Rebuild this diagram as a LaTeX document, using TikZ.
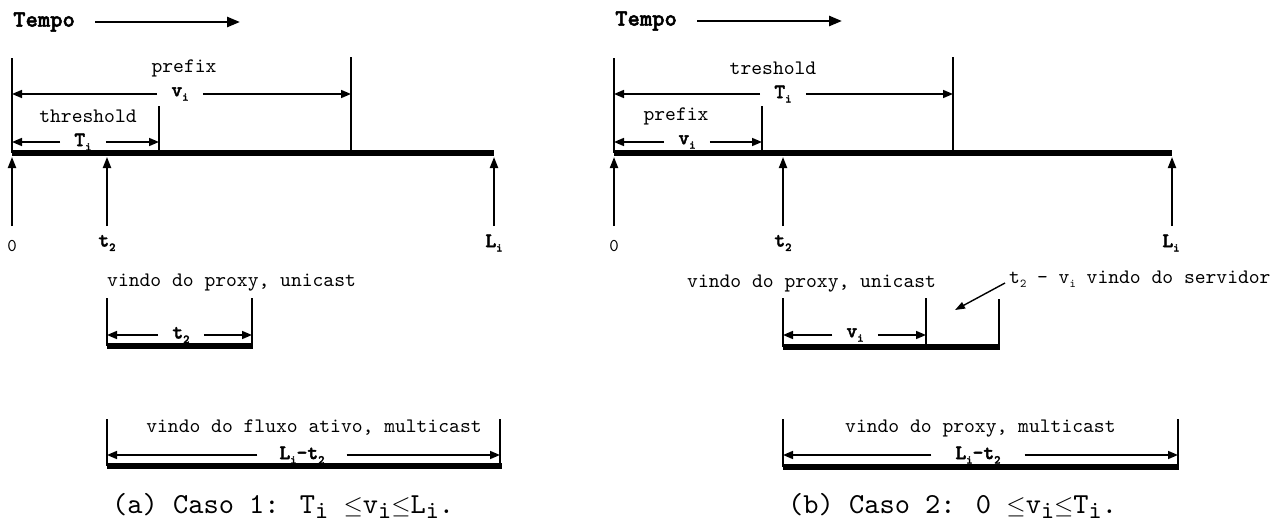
\documentclass[tikz,border=0pt]{standalone}
\usepackage{fontspec}
\newfontfamily\mono{lmmono10-regular.otf}
\newfontfamily\monob{lmmonolt10-bold.otf}[FakeBold=2]
\usetikzlibrary{arrows.meta}
% lowered small index used inside labels
\newcommand\sbs[1]{\raisebox{-0.5ex}{\fontsize{12}{12}\selectfont #1}}
% lowered index used in the captions
\newcommand\csb[1]{\raisebox{-0.35ex}{\fontsize{25}{25}\selectfont #1}}
\newcommand\lesym{$\leq$}
\begin{document}
\begin{tikzpicture}[x=1pt,y=-1pt,
  txt/.style={font=\mono\fontsize{20.6}{22}\selectfont, inner sep=0pt},
  lbl/.style={font=\monob\fontsize{20.6}{22}\selectfont, inner ysep=0pt, inner xsep=14pt},
  axlbl/.style={font=\monob\fontsize{20.6}{22}\selectfont, inner sep=0pt},
  zero/.style={font=\mono\fontsize{18}{20}\selectfont, inner sep=0pt},
  tempo/.style={font=\monob\fontsize{23.5}{25}\selectfont, inner sep=0pt},
  capt/.style={font=\mono\fontsize{29}{31}\selectfont, inner sep=0pt},
  dim/.style={line width=1.6pt, -{Triangle[length=10pt,width=8pt]}},
  tarrow/.style={line width=2.6pt, -{Triangle[length=13pt,width=10pt]}},
  up/.style={line width=2pt, -{Triangle[length=11pt,width=8pt]}},
  tick/.style={line width=1.6pt},
  bar/.style={line width=6pt},
  ptr/.style={line width=1.4pt, -{Triangle[length=10pt,width=7pt]}},
]
\useasboundingbox (0,0) rectangle (1286,523);

% ================= case 1 =================
\node[tempo, anchor=west] (tA) at (13,22) {Tempo};
\coordinate (tAe) at (240,22);
\draw[tarrow] ([xshift=20pt]tA.east) -- (tAe);

% time axis
\coordinate (a0) at (12,153);
\coordinate (aL) at (494,153);
\draw[bar] (a0) -- (aL);

% limits above the axis
\coordinate (aS) at (12,58);
\coordinate (aV) at (351,57);
\coordinate (aT) at (159,106);
\draw[tick] (aS) -- (aS |- a0);
\draw[tick] (aV) -- (aV |- a0);
\draw[tick] (aT) -- (aT |- a0);

% prefix / v_i
\node[txt] (aPre) at (184,68) {prefix};
\node[lbl] (aVi) at (180,94) {v\sbs{i}};
\draw[dim] (aVi) -- (aS |- aVi);
\draw[dim] (aVi) -- (aV |- aVi);

% threshold / T_i
\node[txt] (aThr) at (88,116) {threshold};
\node[lbl] (aTi) at (83,142) {T\sbs{i}};
\draw[dim] (aTi) -- (aS |- aTi);
\draw[dim] (aTi) -- (aT |- aTi);

% instants below the axis
\coordinate (aB) at (0,157);
\coordinate (aU0) at (12,226);
\coordinate (aU1) at (107,226);
\coordinate (aU2) at (494,226);
\draw[up] (aU0) -- (aU0 |- aB);
\draw[up] (aU1) -- (aU1 |- aB);
\draw[up] (aU2) -- (aU2 |- aB);
\node[zero] (aN0) at (12,246) {0};
\node[axlbl] (aN1) at (107,243) {t\sbs{2}};
\node[axlbl] (aN2) at (494,243) {L\sbs{i}};

% unicast part from the proxy
\node[txt, anchor=west] (aUni) at (107,283) {vindo do proxy, unicast};
\coordinate (b1L) at (107,298);
\coordinate (b1R) at (252,298);
\coordinate (b1B) at (107,346);
\coordinate (b1E) at (253,346);
\draw[tick] (b1L) -- (b1L |- b1B);
\draw[tick] (b1R) -- (b1R |- b1B);
\draw[bar] (b1B) -- (b1E);
\node[lbl] (aT2) at (181,335) {t\sbs{2}};
\draw[dim] (aT2) -- (b1L |- aT2);
\draw[dim] (aT2) -- (b1R |- aT2);

% multicast part from the active stream
\coordinate (b2L) at (107,419);
\coordinate (b2R) at (500,419);
\coordinate (b2B) at (107,466);
\coordinate (b2E) at (502,466);
\draw[tick] (b2L) -- (b2L |- b2B);
\draw[tick] (b2R) -- (b2R |- b2B);
\draw[bar] (b2B) -- (b2E);
\node[txt] (aMul) at (314,428) {vindo do fluxo ativo, multicast};
\node[lbl, inner xsep=22pt] (aLt) at (302,455) {L\sbs{i}-t\sbs{2}};
\draw[dim] (aLt) -- (b2L |- aLt);
\draw[dim] (aLt) -- (b2R |- aLt);

\node[capt, anchor=west] (capA) at (112,506) {(a) Caso 1: T\csb{i} \lesym v\csb{i}\lesym L\csb{i}.};

% ================= case 2 =================
\node[tempo, anchor=west] (tB) at (615,21) {Tempo};
\coordinate (tBe) at (842,21);
\draw[tarrow] ([xshift=20pt]tB.east) -- (tBe);

% time axis
\coordinate (c0) at (614,153);
\coordinate (cL) at (1172,153);
\draw[bar] (c0) -- (cL);

% limits above the axis
\coordinate (cS) at (614,58);
\coordinate (cT) at (953,57);
\coordinate (cV) at (762,106);
\draw[tick] (cS) -- (cS |- c0);
\draw[tick] (cT) -- (cT |- c0);
\draw[tick] (cV) -- (cV |- c0);

% treshold / T_i
\node[txt] (cThr) at (773,68) {treshold};
\node[lbl] (cTi) at (783,94) {T\sbs{i}};
\draw[dim] (cTi) -- (cS |- cTi);
\draw[dim] (cTi) -- (cT |- cTi);

% prefix / v_i
\node[txt] (cPre) at (676,116) {prefix};
\node[lbl] (cVi) at (687,142) {v\sbs{i}};
\draw[dim] (cVi) -- (cS |- cVi);
\draw[dim] (cVi) -- (cV |- cVi);

% instants below the axis
\coordinate (cB) at (0,157);
\coordinate (cU0) at (614,226);
\coordinate (cU1) at (783,226);
\coordinate (cU2) at (1172,226);
\draw[up] (cU0) -- (cU0 |- cB);
\draw[up] (cU1) -- (cU1 |- cB);
\draw[up] (cU2) -- (cU2 |- cB);
\node[zero] (cN0) at (614,246) {0};
\node[axlbl] (cN1) at (783,243) {t\sbs{2}};
\node[axlbl] (cN2) at (1171,243) {L\sbs{i}};

% unicast part from the proxy, then from the server
\node[txt, anchor=west] (cUni) at (687,284) {vindo do proxy, unicast};
\node[txt, anchor=west] (cSrv) at (1009,279) {t\sbs{2} - v\sbs{i} vindo do servidor};
\coordinate (cPtr) at (955,310);
\draw[ptr] ([xshift=-4pt,yshift=-4pt]cSrv.west) -- (cPtr);

\coordinate (d1L) at (783,298);
\coordinate (d1M) at (926,298);
\coordinate (d1R) at (999,299);
\coordinate (d1B) at (783,347);
\coordinate (d1E) at (1000,347);
\draw[tick] (d1L) -- (d1L |- d1B);
\draw[tick] (d1M) -- (d1M |- d1B);
\draw[tick] (d1R) -- (d1R |- d1B);
\draw[bar] (d1B) -- (d1E);
\node[lbl] (cV2) at (855,335) {v\sbs{i}};
\draw[dim] (cV2) -- (d1L |- cV2);
\draw[dim] (cV2) -- (d1M |- cV2);

% multicast part from the proxy
\coordinate (d2L) at (783,419);
\coordinate (d2R) at (1178,419);
\coordinate (d2B) at (783,467);
\coordinate (d2E) at (1179,467);
\draw[tick] (d2L) -- (d2L |- d2B);
\draw[tick] (d2R) -- (d2R |- d2B);
\draw[bar] (d2B) -- (d2E);
\node[txt, anchor=west] (cMul) at (845,429) {vindo do proxy, multicast};
\node[lbl, inner xsep=24pt] (cLt) at (978,455) {L\sbs{i}-t\sbs{2}};
\draw[dim] (cLt) -- (d2L |- cLt);
\draw[dim] (cLt) -- (d2R |- cLt);

\node[capt, anchor=west] (capB) at (788,506) {(b) Caso 2: 0 \lesym v\csb{i}\lesym T\csb{i}.};
\end{tikzpicture}
\end{document}
